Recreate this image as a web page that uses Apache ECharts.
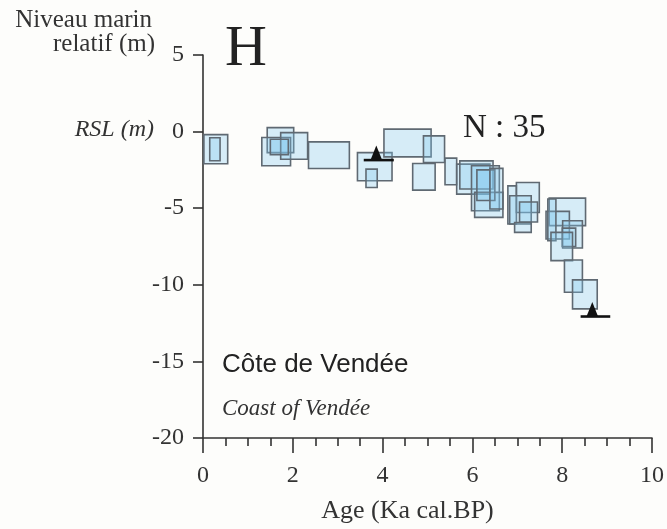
<!DOCTYPE html>
<html>
<head>
<meta charset="utf-8">
<script src="https://cdn.jsdelivr.net/npm/echarts@6/dist/echarts.min.js"></script>
<style>
html,body{margin:0;padding:0;background:#fdfdfb;}
#c{width:667px;height:529px;}
</style>
</head>
<body>
<div id="c"></div>
<script>
// Sample boxes: age range (ka cal BP) and RSL range (m)
var ageMin = [0.02,0.15,1.43,1.31,1.73,1.50,2.35,3.44,3.63,4.03,4.91,4.67,5.39,5.65,5.72,5.98,6.05,6.10,6.39,6.79,6.98,6.83,6.94,7.05,7.71,7.64,7.68,8.01,8.00,7.75,8.05,8.23];
var ageMax = [0.55,0.38,2.02,1.95,2.33,1.90,3.26,4.21,3.88,5.08,5.38,5.17,5.65,6.39,6.46,6.60,6.68,6.50,6.68,6.98,7.49,7.31,7.31,7.45,8.52,8.16,7.86,8.45,8.30,8.23,8.45,8.78];
var rslMax = [-0.20,-0.40,0.26,-0.39,-0.07,-0.50,-0.67,-1.37,-2.45,0.16,-0.28,-2.08,-1.73,-2.12,-1.91,-2.23,-3.97,-2.50,-2.40,-3.54,-3.32,-4.19,-5.93,-4.60,-4.34,-5.21,-4.40,-5.82,-6.30,-6.58,-8.38,-9.68];
var rslMin = [-2.10,-1.90,-1.37,-2.23,-1.80,-1.50,-2.41,-3.21,-3.65,-1.65,-2.02,-3.82,-3.47,-4.08,-3.75,-5.17,-5.60,-4.50,-5.05,-6.03,-5.28,-6.03,-6.58,-5.90,-6.14,-7.01,-7.12,-7.60,-7.50,-8.42,-10.49,-11.57];
// Limiting points (triangles with horizontal bar)
var limAge = [3.86, 8.67];
var limRsl = [-1.86, -12.07];
var limAgeMin = [3.58, 8.41];
var limAgeMax = [4.25, 9.07];

var xTicks = [0, 2, 4, 6, 8, 10];
var yTicks = [-20, -15, -10, -5, 0, 5];

var boxes = ageMin.map(function(a, i){ return [a, ageMax[i], rslMax[i], rslMin[i]]; });
var limBars = limAge.map(function(a, i){ return [limAgeMin[i], limAgeMax[i], limRsl[i]]; });
var limPts = limAge.map(function(a, i){ return [a, limRsl[i]]; });

var serif = '"Liberation Serif", "DejaVu Serif", serif';
var sans = '"Liberation Sans", Arial, sans-serif';
var chart = echarts.init(document.getElementById('c'));
chart.setOption({
  backgroundColor: '#fdfdfb',
  animation: false,
  grid: {left: 203, right: 12, top: 55, bottom: 90},
  xAxis: {
    type: 'value', min: xTicks[0], max: xTicks[xTicks.length-1], interval: 2,
    axisLine: {onZero: false, lineStyle: {color: '#333', width: 1.6}},
    axisTick: {length: 15, lineStyle: {color: '#333', width: 1.6}},
    minorTick: {show: true, splitNumber: 4, length: 8, lineStyle: {color: '#333', width: 1.6}},
    splitLine: {show: false},
    axisLabel: {color: '#333', fontFamily: serif, fontSize: 24, margin: 26},
    name: 'Age (Ka cal.BP)', nameLocation: 'middle', nameGap: 60,
    nameTextStyle: {color: '#333', fontFamily: serif, fontSize: 26, padding: [0, 40, 0, 0]}
  },
  yAxis: {
    type: 'value', min: yTicks[0], max: yTicks[yTicks.length-1], interval: 5,
    axisLine: {onZero: false, lineStyle: {color: '#333', width: 1.6}},
    axisTick: {length: 10, lineStyle: {color: '#333', width: 1.6}},
    splitLine: {show: false},
    axisLabel: {color: '#333', fontFamily: serif, fontSize: 24, margin: 19}
  },
  series: [
    {
      type: 'custom',
      data: boxes,
      renderItem: function(params, api){
        var p0 = api.coord([api.value(0), api.value(2)]);
        var p1 = api.coord([api.value(1), api.value(3)]);
        return {
          type: 'rect',
          shape: {x: p0[0], y: p0[1], width: p1[0]-p0[0], height: p1[1]-p0[1]},
          style: {fill: 'rgba(125,200,238,0.3)', stroke: '#5f6972', lineWidth: 1.6}
        };
      }
    },
    {
      type: 'custom',
      data: limBars,
      z: 5,
      renderItem: function(params, api){
        var p0 = api.coord([api.value(0), api.value(2)]);
        var p1 = api.coord([api.value(1), api.value(2)]);
        return {
          type: 'line',
          shape: {x1: p0[0], y1: p0[1], x2: p1[0], y2: p1[1]},
          style: {stroke: '#111', lineWidth: 2.6}
        };
      }
    },
    {
      type: 'scatter',
      data: limPts,
      z: 6,
      symbol: 'triangle',
      symbolSize: [12, 15],
      symbolOffset: [0, -7],
      itemStyle: {color: '#111', opacity: 1}
    }
  ],
  graphic: [
    {type: 'text', right: 515, top: 8, style: {text: 'Niveau marin', font: '25px ' + serif, fill: '#333'}},
    {type: 'text', right: 512, top: 32, style: {text: 'relatif (m)', font: '25px ' + serif, fill: '#333'}},
    {type: 'text', right: 513, top: 118, style: {text: 'RSL (m)', font: 'italic 24px ' + serif, fill: '#333'}},
    {type: 'text', left: 225, top: 21, style: {text: 'H', font: '58px ' + serif, fill: '#222'}},
    {type: 'text', left: 463, top: 112, style: {text: 'N : 35', font: '33px ' + serif, fill: '#222'}},
    {type: 'text', left: 222, top: 352, style: {text: 'Côte de Vendée', font: '26px ' + sans, fill: '#222'}},
    {type: 'text', left: 222, top: 397, style: {text: 'Coast of Vendée', font: 'italic 23px ' + serif, fill: '#333'}}
  ]
});
</script>
</body>
</html>
